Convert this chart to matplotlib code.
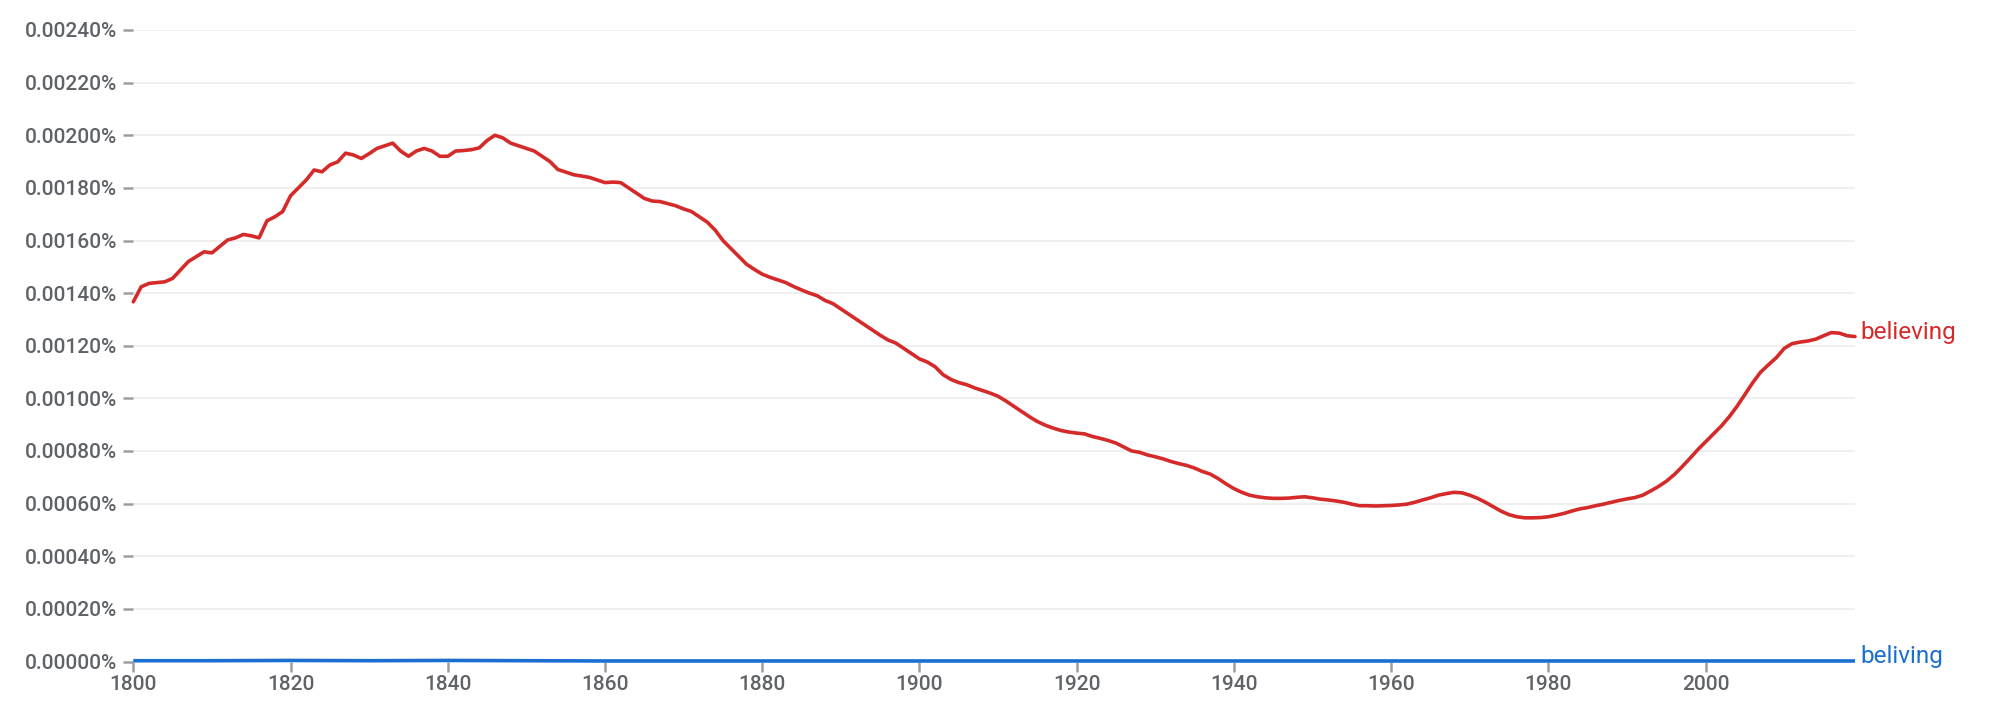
import matplotlib
matplotlib.use("Agg")
import matplotlib.pyplot as plt
from matplotlib.ticker import FuncFormatter, MultipleLocator

plt.rcParams['font.family'] = ['Roboto', 'DejaVu Sans']

# ---- data (percent of corpus) ----
years_believing = [
    1800, 1801, 1802, 1804, 1805, 1807, 1809, 1810, 1812, 1813, 1814, 1815, 1816, 1817, 1818, 1819,
    1820, 1821, 1822, 1823, 1824, 1825, 1826, 1827, 1828, 1829, 1830, 1831, 1832, 1833, 1834, 1835,
    1836, 1837, 1838, 1839, 1840, 1841, 1842, 1843, 1844, 1845, 1846, 1847, 1848, 1849, 1850, 1851,
    1852, 1853, 1854, 1855, 1856, 1857, 1858, 1859, 1860, 1861, 1862, 1863, 1864, 1865, 1866, 1867,
    1868, 1869, 1870, 1871, 1872, 1873, 1874, 1875, 1876, 1877, 1878, 1879, 1880, 1881, 1882, 1883,
    1884, 1885, 1886, 1887, 1888, 1889, 1890, 1891, 1892, 1893, 1894, 1895, 1896, 1897, 1898, 1899,
    1900, 1901, 1902, 1903, 1904, 1905, 1906, 1907, 1908, 1909, 1910, 1911, 1912, 1913, 1914, 1915,
    1916, 1917, 1918, 1919, 1920, 1921, 1922, 1923, 1924, 1925, 1926, 1927, 1928, 1929, 1930, 1931,
    1932, 1933, 1934, 1935, 1936, 1937, 1938, 1939, 1940, 1941, 1942, 1943, 1944, 1945, 1946, 1947,
    1948, 1949, 1950, 1951, 1952, 1953, 1954, 1955, 1956, 1957, 1958, 1959, 1960, 1961, 1962, 1963,
    1964, 1965, 1966, 1967, 1968, 1969, 1970, 1971, 1972, 1973, 1974, 1975, 1976, 1977, 1978, 1979,
    1980, 1981, 1982, 1983, 1984, 1985, 1986, 1987, 1988, 1989, 1990, 1991, 1992, 1993, 1994, 1995,
    1996, 1997, 1998, 1999, 2000, 2001, 2002, 2003, 2004, 2005, 2006, 2007, 2008, 2009, 2010, 2011,
    2012, 2013, 2014, 2015, 2016, 2017, 2018, 2019,
]
believing = [
    0.001367, 0.001424, 0.001437, 0.001443, 0.001456, 0.001520, 0.001557, 0.001553, 0.001602, 0.001610,
    0.001623, 0.001618, 0.001610, 0.001675, 0.001690, 0.001710,
    0.001770, 0.001800, 0.001830, 0.001868, 0.001861, 0.001887, 0.001899, 0.001932, 0.001925, 0.001912,
    0.001930, 0.001950, 0.001960, 0.001970, 0.001940, 0.001920,
    0.001940, 0.001950, 0.001940, 0.001920, 0.001920, 0.001940, 0.001942, 0.001945, 0.001952, 0.001980,
    0.002000, 0.001990, 0.001970, 0.001960, 0.001950, 0.001940,
    0.001920, 0.001900, 0.001870, 0.001860, 0.001850, 0.001845, 0.001840, 0.001830, 0.001820, 0.001822,
    0.001820, 0.001800, 0.001780, 0.001760, 0.001750, 0.001748,
    0.001740, 0.001732, 0.001720, 0.001710, 0.001690, 0.001670, 0.001640, 0.001600, 0.001570, 0.001540,
    0.001510, 0.001490, 0.001472, 0.001460, 0.001450, 0.001440,
    0.001425, 0.001412, 0.001400, 0.001390, 0.001372, 0.001360, 0.001340, 0.001320, 0.001300, 0.001280,
    0.001260, 0.001240, 0.001222, 0.001210, 0.001190, 0.001170,
    0.001150, 0.001138, 0.001120, 0.001090, 0.001072, 0.001060, 0.001052, 0.001040, 0.001030, 0.001020,
    0.001008, 0.000990, 0.000970, 0.000950, 0.000930, 0.000912,
    0.000898, 0.000887, 0.000878, 0.000872, 0.000868, 0.000865, 0.000855, 0.000848, 0.000840, 0.000830,
    0.000815, 0.000800, 0.000795, 0.000785, 0.000778, 0.000770,
    0.000760, 0.000752, 0.000745, 0.000735, 0.000722, 0.000712, 0.000695, 0.000675, 0.000657, 0.000643,
    0.000632, 0.000626, 0.000622, 0.000620, 0.000620, 0.000621,
    0.000624, 0.000626, 0.000622, 0.000617, 0.000614, 0.000610, 0.000605, 0.000598, 0.000592, 0.000592,
    0.000591, 0.000592, 0.000593, 0.000595, 0.000598, 0.000605,
    0.000614, 0.000622, 0.000632, 0.000638, 0.000643, 0.000641, 0.000632, 0.000620, 0.000605, 0.000588,
    0.000571, 0.000558, 0.000550, 0.000546, 0.000546, 0.000547,
    0.000550, 0.000556, 0.000563, 0.000572, 0.000580, 0.000585, 0.000592, 0.000598, 0.000605, 0.000612,
    0.000618, 0.000623, 0.000632, 0.000648, 0.000665, 0.000685,
    0.000710, 0.000740, 0.000772, 0.000805, 0.000835, 0.000865, 0.000895, 0.000930, 0.000970, 0.001015,
    0.001060, 0.001100, 0.001128, 0.001155, 0.001190, 0.001208,
    0.001214, 0.001218, 0.001225, 0.001238, 0.001250, 0.001248, 0.001238, 0.001235,
]

years_beliving = [1800, 1810, 1820, 1830, 1840, 1850, 1860, 1880, 1900, 1920, 1940, 1960, 1980, 2000, 2019]
beliving = [0.000003, 0.000003, 0.000004, 0.000003, 0.000004, 0.000003, 0.000002, 0.000002, 0.000002,
            0.000002, 0.000002, 0.000002, 0.000002, 0.000002, 0.000002]

series_names = ["believing", "beliving"]
series_colors = ["#d52a2a", "#1a6fd1"]

x_ticks = [1800, 1820, 1840, 1860, 1880, 1900, 1920, 1940, 1960, 1980, 2000]

# ---- figure ----
W, H, DPI = 2000, 711, 100
fig = plt.figure(figsize=(W / DPI, H / DPI), dpi=DPI)
left, right = 133.3 / W, 1855 / W
bottom = (H - 661.5) / H
top = (H - 30) / H
ax = fig.add_axes([left, bottom, right - left, top - bottom])

text_gray = "#5f6368"
tick_gray = "#9e9e9e"

ax.plot(years_believing, believing, color=series_colors[0], lw=2.6, solid_capstyle='round',
        solid_joinstyle='round', clip_on=False, zorder=3)
ax.plot(years_beliving, beliving, color=series_colors[1], lw=2.6, solid_capstyle='butt',
        clip_on=False, zorder=3)

ax.set_xlim(1800, 2019)
ax.set_ylim(0, 0.0024)
ax.yaxis.set_major_locator(MultipleLocator(0.0002))
ax.set_xticks(x_ticks)
ax.yaxis.set_major_formatter(FuncFormatter(lambda v, p: f"{v:.5f}%"))

for s in ax.spines.values():
    s.set_visible(False)

ax.grid(axis='y', color="#eeeeee", lw=1.3, zorder=0)
ax.grid(axis='x', visible=False)

ax.tick_params(axis='y', length=7.5, width=1.8, color=tick_gray, pad=4,
               labelsize=15, labelcolor=text_gray)
ax.tick_params(axis='x', length=7, width=1.8, color=tick_gray, pad=3,
               labelsize=15, labelcolor=text_gray)
for lbl in ax.get_xticklabels() + ax.get_yticklabels():
    lbl.set_fontweight('medium')

# end labels
ax.annotate(series_names[0], xy=(years_believing[-1], believing[-1]), xytext=(4, 3),
            textcoords='offset points', color=series_colors[0], fontsize=17.5,
            va='center', ha='left', annotation_clip=False)
ax.annotate(series_names[1], xy=(years_beliving[-1], beliving[-1]), xytext=(4, 3),
            textcoords='offset points', color=series_colors[1], fontsize=17.5,
            va='center', ha='left', annotation_clip=False)

fig.savefig("out.png", dpi=DPI, facecolor="white")
